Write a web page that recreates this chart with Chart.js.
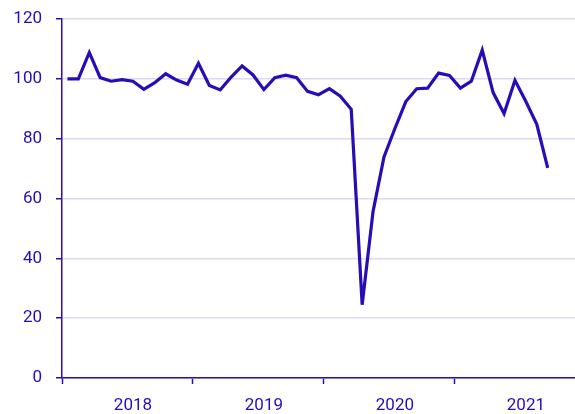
<!DOCTYPE html>
<html lang="en">
<head>
  <meta charset="UTF-8">
  <title>Index 2018-2021</title>
  <script src="https://cdn.jsdelivr.net/npm/chart.js"></script>
  <style>
    html, body {
      margin: 0;
      padding: 0;
      background: #fff;
    }
    #wrap {
      width: 575px;
      height: 414px;
    }
  </style>
</head>
<body>
  <div id="wrap"><canvas id="chart"></canvas></div>

  <script>
    // monthly values, Jan 2018 - Sep 2021
    const years = ['2018', '2019', '2020', '2021'];
    const values = [
      100, 100, 108.8, 100.4, 99.2, 99.7, 99.2, 96.5, 98.7, 101.7, 99.6, 98.2,
      105.2, 97.8, 96.3, 100.6, 104.3, 101.3, 96.4, 100.4, 101.2, 100.4, 95.8, 94.7,
      96.7, 94.2, 89.8, 24.5, 55.7, 73.9, 83.4, 92.4, 96.7, 96.9, 101.9, 101.1,
      96.9, 99.2, 109.6, 95.4, 88.4, 99.5, 92.4, 84.8, 70.2
    ];
    const yTicks = [0, 20, 40, 60, 80, 100, 120];

    const ink = '#2a0cb6';
    const grid = '#dcd9f3';

    // year boundaries sit between Dec and Jan, labels sit on July
    const boundaries = years.map((y, i) => i * 12 - 0.5);
    const labelPos = years.map((y, i) => i * 12 + 6);

    const points = values.map((v, i) => ({ x: i, y: v }));

    new Chart(document.getElementById('chart'), {
      type: 'line',
      data: {
        datasets: [{
          data: points,
          borderColor: ink,
          borderWidth: 3.2,
          pointRadius: 0,
          tension: 0,
          fill: false
        }]
      },
      options: {
        responsive: true,
        maintainAspectRatio: false,
        animation: false,
        layout: { padding: { top: 19, right: 0, left: 0, bottom: 0 } },
        plugins: {
          legend: { display: false },
          tooltip: { enabled: false }
        },
        scales: {
          x: {
            type: 'linear',
            min: -0.5,
            max: 46.5,
            afterBuildTicks: (scale) => {
              const t = [];
              boundaries.forEach((b, i) => {
                t.push({ value: b });
                t.push({ value: labelPos[i] });
              });
              scale.ticks = t;
            },
            afterFit: (scale) => {
              scale.height = 36;
              scale.paddingLeft = 0;
              scale.paddingRight = 0;
            },
            border: { color: ink, width: 1.5 },
            grid: {
              drawOnChartArea: false,
              tickLength: 6,
              tickWidth: 1.5,
              tickColor: (ctx) => boundaries.includes(ctx.tick.value) ? ink : 'rgba(0,0,0,0)'
            },
            ticks: {
              autoSkip: false,
              maxRotation: 0,
              padding: 12,
              color: ink,
              font: { family: 'Roboto', size: 17 },
              callback: (v) => {
                const i = labelPos.indexOf(v);
                return i >= 0 ? years[i] : '';
              }
            }
          },
          y: {
            min: 0,
            max: 120,
            afterBuildTicks: (scale) => {
              scale.ticks = yTicks.map(v => ({ value: v }));
            },
            afterFit: (scale) => {
              scale.width = 62;
              scale.paddingTop = 0;
              scale.paddingBottom = 0;
            },
            border: { color: ink, width: 1.5 },
            grid: {
              color: grid,
              lineWidth: 1.5,
              tickColor: ink,
              tickLength: 6,
              tickWidth: 1.5
            },
            ticks: {
              padding: 14,
              color: ink,
              font: { family: 'Roboto', size: 17 }
            }
          }
        }
      }
    });
  </script>
</body>
</html>
